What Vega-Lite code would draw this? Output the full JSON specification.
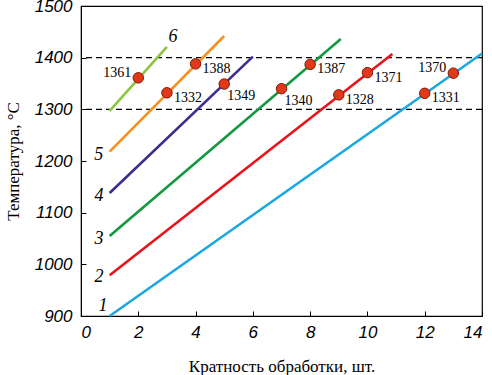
{
  "$schema": "https://vega.github.io/schema/vega-lite/v6.json",
  "width": 401,
  "height": 310,
  "autosize": {"type": "none"},
  "padding": {"left": 81, "top": 6, "right": 10, "bottom": 59},
  "background": "white",
  "config": {
    "view": {"stroke": "black", "strokeWidth": 1.2},
    "axis": {
      "grid": false,
      "domainColor": "black",
      "tickColor": "black",
      "labelColor": "black",
      "titleColor": "black",
      "labelFont": "Liberation Sans",
      "labelFontStyle": "italic",
      "labelFontSize": 17,
      "titleFont": "Liberation Serif",
      "titleFontSize": 17,
      "titleFontWeight": "normal"
    }
  },
  "datasets": {
    "lines": [
      {"series": "1", "x": 1, "y": 900},
      {"series": "1", "x": 14, "y": 1408},
      {"series": "2", "x": 1, "y": 979},
      {"series": "2", "x": 10.87, "y": 1407},
      {"series": "3", "x": 1, "y": 1055},
      {"series": "3", "x": 9.07, "y": 1436},
      {"series": "4", "x": 1, "y": 1138},
      {"series": "4", "x": 6, "y": 1402},
      {"series": "5", "x": 1, "y": 1218},
      {"series": "5", "x": 5, "y": 1442},
      {"series": "6", "x": 1, "y": 1297},
      {"series": "6", "x": 3, "y": 1421}
    ],
    "points": [
      {"x": 2, "y": 1361, "label": "1361"},
      {"x": 3, "y": 1332, "label": "1332"},
      {"x": 4, "y": 1388, "label": "1388"},
      {"x": 5, "y": 1349, "label": "1349"},
      {"x": 7, "y": 1340, "label": "1340"},
      {"x": 8, "y": 1387, "label": "1387"},
      {"x": 9, "y": 1328, "label": "1328"},
      {"x": 10, "y": 1371, "label": "1371"},
      {"x": 12, "y": 1331, "label": "1331"},
      {"x": 13, "y": 1370, "label": "1370"}
    ],
    "limits": [{"y": 1300}, {"y": 1400}],
    "serieslabels": [
      {"label": "1", "x": 0.77, "y": 919},
      {"label": "2", "x": 0.63, "y": 976},
      {"label": "3", "x": 0.63, "y": 1049},
      {"label": "4", "x": 0.63, "y": 1132},
      {"label": "5", "x": 0.62, "y": 1212},
      {"label": "6", "x": 3.21, "y": 1440}
    ]
  },
  "layer": [
    {
      "data": {"name": "limits"},
      "mark": {"type": "rule", "strokeDash": [6, 4], "color": "black", "strokeWidth": 1.2},
      "encoding": {
        "y": {"field": "y", "type": "quantitative"}
      }
    },
    {
      "data": {"name": "lines"},
      "mark": {"type": "line", "strokeWidth": 2.6},
      "encoding": {
        "x": {
          "field": "x", "type": "quantitative",
          "scale": {"domain": [0, 14], "nice": false},
          "axis": {"values": [0, 2, 4, 6, 8, 10, 12, 14], "format": "d", "tickSize": -5, "labelPadding": 13, "title": "Кратность обработки, шт.", "titlePadding": 18}
        },
        "y": {
          "field": "y", "type": "quantitative",
          "scale": {"domain": [900, 1500], "nice": false, "zero": false},
          "axis": {"values": [900, 1000, 1100, 1200, 1300, 1400, 1500], "format": "d", "tickSize": -5, "labelPadding": 14, "title": "Температура, °C", "titlePadding": 12}
        },
        "detail": {"field": "series"},
        "color": {
          "field": "series", "type": "nominal", "legend": null,
          "scale": {"domain": ["1", "2", "3", "4", "5", "6"], "range": ["#1ba8e2", "#e8141c", "#13983e", "#3b2e8e", "#f7901e", "#8cc63f"]}
        }
      }
    },
    {
      "data": {"name": "points"},
      "mark": {"type": "point", "filled": true, "size": 110, "fill": "#e2381a", "stroke": "#7a1a0a", "strokeWidth": 1, "opacity": 1},
      "encoding": {
        "x": {"field": "x", "type": "quantitative"},
        "y": {"field": "y", "type": "quantitative"}
      }
    },
    {
      "data": {"name": "points"},
      "transform": [{"filter": {"field": "label", "oneOf": ["1361", "1370"]}}],
      "mark": {"type": "text", "align": "right", "baseline": "middle", "dx": -7, "dy": -5, "font": "Liberation Serif", "fontSize": 14, "color": "black"},
      "encoding": {
        "x": {"field": "x", "type": "quantitative"},
        "y": {"field": "y", "type": "quantitative"},
        "text": {"field": "label"}
      }
    },
    {
      "data": {"name": "points"},
      "transform": [{"filter": {"field": "label", "oneOf": ["1332", "1388", "1387", "1328", "1371", "1331"]}}],
      "mark": {"type": "text", "align": "left", "baseline": "middle", "dx": 7, "dy": 5, "font": "Liberation Serif", "fontSize": 14, "color": "black"},
      "encoding": {
        "x": {"field": "x", "type": "quantitative"},
        "y": {"field": "y", "type": "quantitative"},
        "text": {"field": "label"}
      }
    },
    {
      "data": {"name": "points"},
      "transform": [{"filter": {"field": "label", "oneOf": ["1349", "1340"]}}],
      "mark": {"type": "text", "align": "left", "baseline": "middle", "dx": 3, "dy": 12, "font": "Liberation Serif", "fontSize": 14, "color": "black"},
      "encoding": {
        "x": {"field": "x", "type": "quantitative"},
        "y": {"field": "y", "type": "quantitative"},
        "text": {"field": "label"}
      }
    },
    {
      "data": {"name": "serieslabels"},
      "mark": {"type": "text", "align": "center", "baseline": "middle", "font": "Liberation Serif", "fontStyle": "italic", "fontSize": 18, "color": "black"},
      "encoding": {
        "x": {"field": "x", "type": "quantitative"},
        "y": {"field": "y", "type": "quantitative"},
        "text": {"field": "label"}
      }
    }
  ]
}
